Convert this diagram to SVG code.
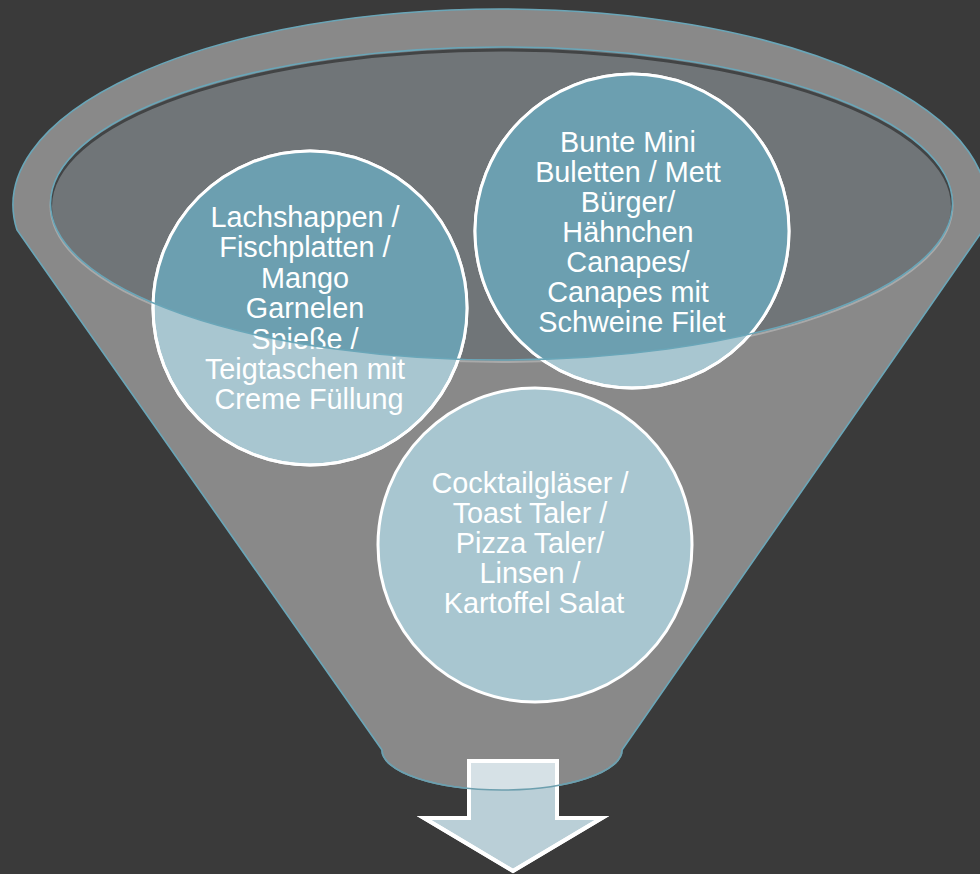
<svg xmlns="http://www.w3.org/2000/svg" width="980" height="874" viewBox="0 0 980 874">
  <style>
    .bg { fill: #3a3a3a; }
    .body { fill: #898989; stroke: #6aa6b8; stroke-width: 1.6; }
    .mouth { fill: #707578; }
    .rim { fill: none; stroke: #6aa6b8; stroke-width: 1.6; }
    .circle { fill: #a8c6d0; stroke: #ffffff; stroke-width: 3; }
    .circle-top { fill: #6c9fb0; }
    .ring { fill: none; stroke: #ffffff; stroke-width: 3; }
    .label { font-family: "Liberation Sans", Arial, sans-serif; font-size: 28.8px; fill: #ffffff; text-anchor: middle; }
    .arrow { fill: #bacfd7; stroke: #ffffff; stroke-width: 4; stroke-miterlimit: 10; }
  </style>
  <defs>
    <!-- funnel outline: rounded top rim, straight sides, rounded spout -->
    <path id="funnelShape" d="M17,230 A487,196 0 1 1 983,230 L622,750 A120,40 0 0 1 382,750 Z"/>
    <ellipse id="mouthShape" cx="501.5" cy="203.5" rx="451" ry="156.5"/>
    <clipPath id="clipMouth"><use href="#mouthShape"/></clipPath>
    <clipPath id="clipFunnel"><use href="#funnelShape"/></clipPath>
    <path id="arrowShape" d="M469,761 H557 V818 H602 L513,871 L424,818 H469 Z"/>
  </defs>

  <rect class="bg" x="0" y="0" width="980" height="874"/>

  <!-- funnel body and its opening -->
  <g id="funnel">
    <use href="#funnelShape" class="body"/>
    <!-- light highlight under the lower lip of the opening -->
    <ellipse cx="501.5" cy="205.5" rx="451" ry="156.5" fill="none" stroke="#a9a9a9" stroke-width="2"/>
    <use href="#mouthShape" class="mouth"/>
    <!-- soft shadow inside the upper lip -->
    <g clip-path="url(#clipMouth)">
      <ellipse cx="501.5" cy="206.5" rx="451" ry="156.5" fill="none" stroke="#2f2f2f" stroke-width="3" opacity="0.7"/>
    </g>
  </g>

  <!-- node: fish platters -->
  <g id="node-fisch">
    <circle class="circle" cx="310" cy="308" r="157"/>
    <circle class="circle-top" cx="310" cy="308" r="157" clip-path="url(#clipMouth)"/>
    <circle class="ring" cx="310" cy="308" r="157"/>
    <text class="label">
      <tspan x="309" y="227">Lachshappen /</tspan>
      <tspan x="309" y="257.4">Fischplatten /</tspan>
      <tspan x="309" y="287.8">Mango</tspan>
      <tspan x="309" y="318.2">Garnelen</tspan>
      <tspan x="309" y="348.6">Spieße /</tspan>
      <tspan x="309" y="379">Teigtaschen mit</tspan>
      <tspan x="309" y="409.4">Creme Füllung</tspan>
    </text>
  </g>

  <!-- node: meat bites -->
  <g id="node-fleisch">
    <circle class="circle" cx="632" cy="231" r="157"/>
    <circle class="circle-top" cx="632" cy="231" r="157" clip-path="url(#clipMouth)"/>
    <circle class="ring" cx="632" cy="231" r="157"/>
    <text class="label">
      <tspan x="632" y="152">Bunte Mini</tspan>
      <tspan x="632" y="182">Buletten / Mett</tspan>
      <tspan x="632" y="212">Bürger/</tspan>
      <tspan x="632" y="242">Hähnchen</tspan>
      <tspan x="632" y="272">Canapes/</tspan>
      <tspan x="632" y="302">Canapes mit</tspan>
      <tspan x="632" y="332">Schweine Filet</tspan>
    </text>
  </g>

  <!-- node: glasses and salads -->
  <g id="node-glaeser">
    <circle class="circle" cx="535" cy="545" r="157"/>
    <text class="label">
      <tspan x="534" y="493">Cocktailgläser /</tspan>
      <tspan x="534" y="523">Toast Taler /</tspan>
      <tspan x="534" y="553">Pizza Taler/</tspan>
      <tspan x="534" y="583">Linsen /</tspan>
      <tspan x="534" y="613">Kartoffel Salat</tspan>
    </text>
  </g>

  <!-- rim of the opening drawn above the nodes -->
  <use href="#mouthShape" class="rim"/>

  <!-- output arrow below the spout -->
  <g id="arrow">
    <use href="#arrowShape" class="arrow"/>
    <g clip-path="url(#clipFunnel)">
      <use href="#arrowShape" fill="#d6e1e6"/>
    </g>
    <use href="#arrowShape" fill="none" stroke="#ffffff" stroke-width="4" stroke-miterlimit="10"/>
    <path d="M382,750 A120,40 0 0 0 622,750" fill="none" stroke="#6d9fae" stroke-width="1.6"/>
  </g>
</svg>
